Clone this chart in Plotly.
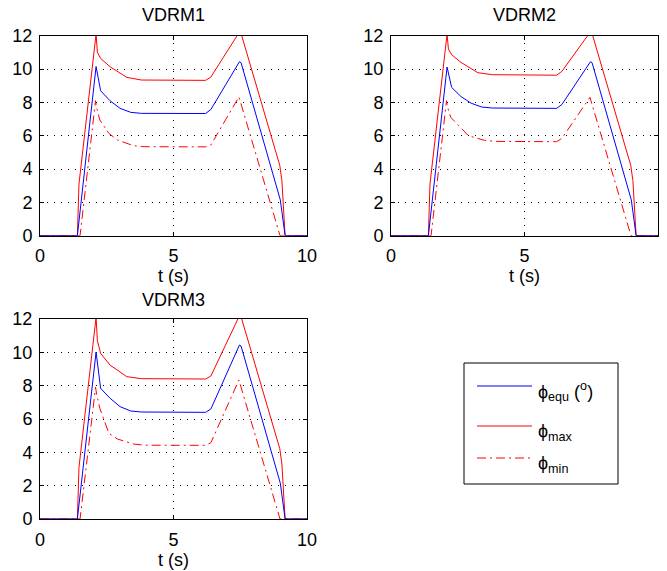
import plotly.graph_objects as go

# ---- data ----
t_equ = [0, 1.4, 2.1, 2.27, 2.62, 3.0, 3.4, 3.8, 6.2, 6.4, 7.47, 7.53, 9.0, 9.18, 10]
equ_1 = [0, 0, 10.15, 8.7, 8.1, 7.64, 7.4, 7.34, 7.33, 7.57, 10.44, 10.38, 2.15, 0, 0]
equ_2 = [0, 0, 10.12, 8.9, 8.35, 7.95, 7.72, 7.66, 7.64, 7.87, 10.44, 10.38, 2.15, 0, 0]
equ_3 = [0, 0, 10.02, 7.84, 7.25, 6.74, 6.48, 6.42, 6.40, 6.60, 10.44, 10.38, 2.15, 0, 0]

t_max = [0, 1.4, 1.46, 2.1, 2.15, 2.27, 2.62, 3.25, 3.8, 6.2, 6.4, 7.5, 8.98, 9.06, 9.18, 10]
max_1 = [0, 0, 3.1, 12.1, 11.0, 10.64, 10.14, 9.5, 9.34, 9.32, 9.52, 12.3, 4.22, 3.3, 0, 0]
max_2 = [0, 0, 3.1, 12.1, 11.2, 10.86, 10.4, 9.78, 9.66, 9.63, 9.86, 12.3, 4.22, 3.3, 0, 0]
max_3 = [0, 0, 3.1, 12.1, 10.7, 9.94, 9.24, 8.54, 8.42, 8.40, 8.58, 12.3, 4.22, 3.3, 0, 0]

t_min = [0, 1.5, 2.08, 2.12, 2.24, 2.58, 2.9, 3.5, 3.9, 6.2, 6.4, 7.45, 8.99, 10]
min_1 = [0, 0, 8.1, 7.7, 6.94, 6.14, 5.74, 5.4, 5.34, 5.33, 5.44, 8.33, 0, 0]
min_2 = [0, 0, 8.1, 7.7, 7.1, 6.5, 6.0, 5.72, 5.66, 5.64, 5.84, 8.30, 0, 0]
min_3 = [0, 0, 7.9, 7.5, 6.64, 5.14, 4.8, 4.5, 4.43, 4.42, 4.58, 8.34, 0, 0]

titles = ["VDRM1", "VDRM2", "VDRM3"]
x_ticks = [0, 5, 10]
y_ticks = [0, 2, 4, 6, 8, 10, 12]
legend_labels = ["ϕ<sub>equ</sub> (<sup>o</sup>)", "ϕ<sub>max</sub>", "ϕ<sub>min</sub>"]

# ---- layout helpers ----
W, H = 667, 571
FONT = "Liberation Sans, Arial, Helvetica, sans-serif"
BLUE = "#0000ff"
RED = "#ff0000"
DASHDOT = "9px,4px,2px,4px"

def px(x):
    return x / W

def py(y):
    return 1 - y / H

# plot-area boxes in pixels: (left, right, top, bottom)
boxes = [(40, 307, 35.7, 235.7), (391, 658, 35.7, 235.7), (40, 307, 319, 519)]

fig = go.Figure()
series = [(equ_1, max_1, min_1), (equ_2, max_2, min_2), (equ_3, max_3, min_3)]
for i, (e, mx, mn) in enumerate(series):
    xa = "x" if i == 0 else f"x{i+1}"
    ya = "y" if i == 0 else f"y{i+1}"
    fig.add_trace(go.Scatter(x=t_min, y=mn, mode="lines", xaxis=xa, yaxis=ya,
                             line=dict(color=RED, width=1, dash=DASHDOT), showlegend=False))
    fig.add_trace(go.Scatter(x=t_max, y=mx, mode="lines", xaxis=xa, yaxis=ya,
                             line=dict(color=RED, width=1), showlegend=False))
    fig.add_trace(go.Scatter(x=t_equ, y=e, mode="lines", xaxis=xa, yaxis=ya,
                             line=dict(color=BLUE, width=1), showlegend=False))

axis_common = dict(
    showline=True, linecolor="black", linewidth=1, mirror="ticks",
    ticks="inside", ticklen=4, tickcolor="black", tickwidth=1,
    showgrid=True, gridcolor="black", gridwidth=1, griddash="1px,6px",
    zeroline=False, tickfont=dict(family=FONT, size=18, color="black"),
    layer="above traces", automargin=False,
)

layout = dict(
    width=W, height=H, autosize=False,
    margin=dict(l=0, r=0, t=0, b=0, pad=0),
    paper_bgcolor="white", plot_bgcolor="white",
    font=dict(family=FONT, color="black"),
    showlegend=False,
)
for i, (l, r, t, b) in enumerate(boxes):
    xk = "xaxis" if i == 0 else f"xaxis{i+1}"
    yk = "yaxis" if i == 0 else f"yaxis{i+1}"
    ya = "y" if i == 0 else f"y{i+1}"
    xa = "x" if i == 0 else f"x{i+1}"
    layout[xk] = dict(axis_common, domain=[px(l), px(r)], range=[0, 10],
                      tickvals=x_ticks, anchor=ya, ticklabelstandoff=4,
                      title=dict(text="t (s)", font=dict(family=FONT, size=18), standoff=4))
    layout[yk] = dict(axis_common, domain=[py(b), py(t)], range=[0, 12],
                      tickvals=y_ticks, anchor=xa, ticklabelstandoff=3)
fig.update_layout(**layout)

# subplot titles
title_y = [15, 15, 300]
for i, (l, r, t, b) in enumerate(boxes):
    fig.add_annotation(x=px((l + r) / 2), y=py(title_y[i]), xref="paper", yref="paper",
                       text=titles[i], showarrow=False, xanchor="center", yanchor="middle",
                       font=dict(family=FONT, size=18, color="black"))

# legend box (drawn to match the reference's MATLAB-style legend)
lx0, lx1, ly0, ly1 = 464, 618, 363, 484
fig.add_shape(type="rect", xref="paper", yref="paper",
              x0=px(lx0), x1=px(lx1), y0=py(ly1), y1=py(ly0),
              line=dict(color="black", width=1), fillcolor="white")
leg_y = [386, 426, 458]
leg_styles = [dict(color=BLUE, width=1), dict(color=RED, width=1),
              dict(color=RED, width=1, dash=DASHDOT)]
for k in range(3):
    fig.add_shape(type="line", xref="paper", yref="paper",
                  x0=px(477), x1=px(532), y0=py(leg_y[k]), y1=py(leg_y[k]),
                  line=leg_styles[k])
    fig.add_annotation(x=px(536), y=py(leg_y[k] + 6), xref="paper", yref="paper",
                       text=legend_labels[k], showarrow=False, xanchor="left",
                       yanchor="middle", font=dict(family=FONT, size=18, color="black"))

fig.write_html("out.html", config={"displayModeBar": False},
               post_script="document.body.style.margin='0';document.body.style.overflow='hidden';")
